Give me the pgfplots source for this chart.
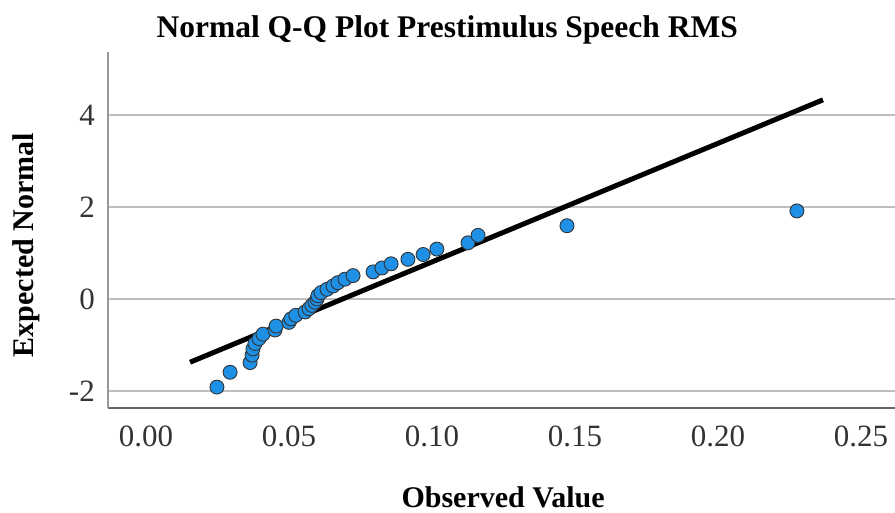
\documentclass[border=0pt]{standalone}
\usepackage{pgfplots}
\pgfplotsset{compat=1.18}
\usepackage{fontspec}
\setmainfont{Liberation Serif}

\definecolor{ptblue}{RGB}{30,144,230}
\definecolor{gridgray}{RGB}{190,190,190}

% Observed RMS values against their expected normal quantiles
\pgfplotstableread{
obs     expnorm
0.0248  -1.915
0.0294  -1.593
0.0364  -1.383
0.0371  -1.221
0.0374  -1.085
0.0381  -0.967
0.0395  -0.862
0.0409  -0.765
0.0451  -0.674
0.0455  -0.589
0.0500  -0.508
0.0507  -0.431
0.0524  -0.355
0.0556  -0.282
0.0570  -0.210
0.0580  -0.140
0.0591  -0.070
0.0598   0.000
0.0601   0.070
0.0612   0.140
0.0633   0.210
0.0654   0.282
0.0671   0.355
0.0696   0.431
0.0724   0.508
0.0794   0.589
0.0825   0.674
0.0857   0.765
0.0916   0.862
0.0969   0.967
0.1017   1.085
0.1126   1.221
0.1161   1.383
0.1472   1.593
0.2276   1.915
}\qqdata

\begin{document}
\begin{tikzpicture}
\begin{axis}[
  at={(0pt,0pt)}, anchor=south west,
  scale only axis,
  width=787pt, height=356pt,
  xmin=-0.01329, xmax=0.2619,
  ymin=-2.37, ymax=5.37,
  axis x line=bottom, axis y line=left,
  x axis line style={-, draw=black!60, line width=1.3pt},
  y axis line style={-, draw=black!40, line width=1.3pt},
  xtick={0,0.05,0.10,0.15,0.20,0.25},
  ytick={-2,0,2,4},
  major tick length=0pt,
  ymajorgrids,
  major grid style={draw=gridgray, line width=1.4pt},
  /pgf/number format/assume math mode=true,
  ticklabel style={font=\fontsize{31}{36}\selectfont, text=black!80},
  xticklabel style={anchor=north, inner sep=0pt, yshift=-18pt,
    /pgf/number format/.cd, fixed, fixed zerofill, precision=2},
  yticklabel style={anchor=east, inner sep=0pt, xshift=-13pt},
  xlabel={Observed Value},
  ylabel={Expected Normal},
  title={Normal Q-Q Plot Prestimulus Speech RMS},
  label style={font=\bfseries\fontsize{30}{36}\selectfont},
  xlabel style={at={(axis description cs:0.502,-0.25)}, anchor=center},
  ylabel style={at={(axis description cs:-0.104,0.458)}, anchor=center, rotate=0},
  title style={at={(axis description cs:0.431,1.045)}, anchor=center,
    font=\bfseries\fontsize{31.5}{36}\selectfont},
  clip=false,
]
  % reference line of the fitted normal distribution
  \addplot[black, line width=5pt, line cap=butt] coordinates {
    (0.0154,-1.375) (0.2367,4.33)
  };
  \addplot[only marks, mark=*, mark size=7pt,
    mark options={fill=ptblue, draw=black!80, line width=0.9pt}]
    table[x=obs, y=expnorm] {\qqdata};
\end{axis}
\pgfresetboundingbox
\path (-108pt,-104pt) rectangle (787pt,408pt);
\end{tikzpicture}
\end{document}
